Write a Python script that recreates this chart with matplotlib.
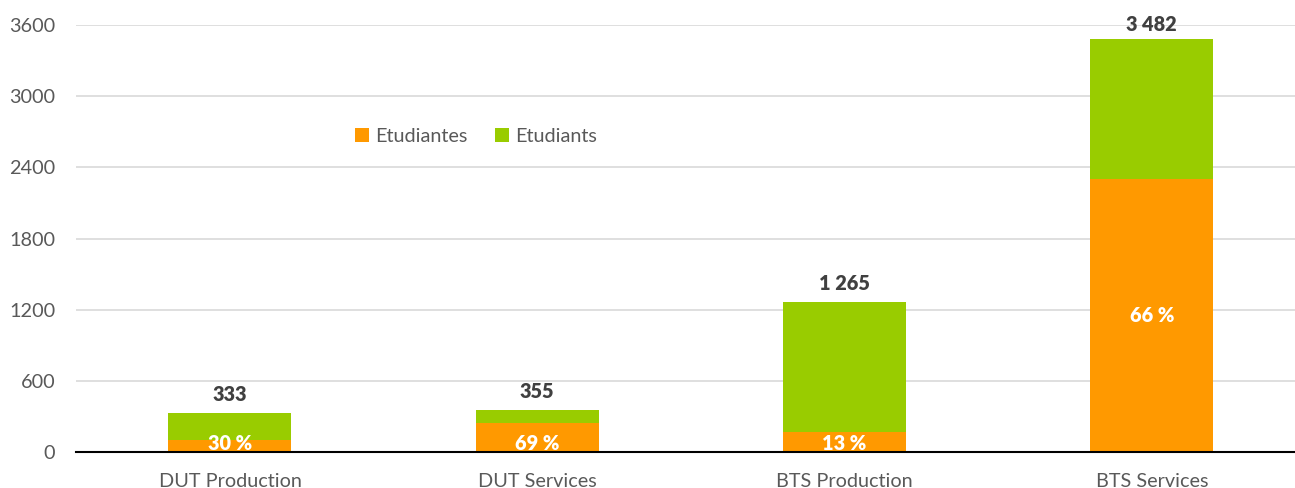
import matplotlib
matplotlib.use("Agg")
import matplotlib.pyplot as plt
import numpy as np

categories = ["DUT Production", "DUT Services", "BTS Production", "BTS Services"]
totals = [333, 355, 1265, 3482]
pct_women = [30, 69, 13, 66]
total_labels = ["333", "355", "1 265", "3 482"]
yticks = [0, 600, 1200, 1800, 2400, 3000, 3600]
legend_labels = ["Etudiantes", "Etudiants"]

women = [t * p / 100 for t, p in zip(totals, pct_women)]
men = [t - w for t, w in zip(totals, women)]

plt.rcParams['font.family'] = ['Lato', 'DejaVu Sans']

ORANGE = "#FF9900"
GREEN = "#99CC00"
FS = 14.3

fig = plt.figure(figsize=(12.95, 4.88), dpi=100)
ax = fig.add_axes([76/1295, 36/488, 1219/1295, 427/488])

x = np.arange(len(categories))
w = 0.40
b1 = ax.bar(x, women, w, color=ORANGE, label=legend_labels[0], zorder=3)
b2 = ax.bar(x, men, w, bottom=women, color=GREEN, label=legend_labels[1], zorder=3)

for xi, wv, p in zip(x, women, pct_women):
    ypos = wv / 2 if wv > 600 else 70
    ax.text(xi, ypos, f"{p} %", ha="center", va="center",
            color="white", fontsize=FS, fontweight="heavy", zorder=4)
for xi, t, lab in zip(x, totals, total_labels):
    ypos = min(t + 75, 3520)
    ax.text(xi, ypos, lab, ha="center", va="bottom", color="#404040",
            fontsize=FS, fontweight="heavy", zorder=4)

ax.set_xlim(-0.501, 3.466)
ax.set_ylim(0, 3600)
ax.set_yticks(yticks)
ax.set_yticklabels([str(v) for v in yticks])
ax.set_xticks(x)
ax.set_xticklabels(categories)
ax.tick_params(axis="y", length=0, pad=15, labelsize=FS, labelcolor="#595959")
ax.tick_params(axis="x", length=0, pad=15, labelsize=FS, labelcolor="#595959")
ax.grid(axis="y", color="#D9D9D9", linewidth=1.2, zorder=0)
for s in ["top", "right", "left"]:
    ax.spines[s].set_visible(False)
ax.spines["bottom"].set_color("#000000")
ax.spines["bottom"].set_linewidth(1.5)
ax.spines["bottom"].set_zorder(5)

fig.legend(handles=[b1, b2], labels=legend_labels, loc="center",
           bbox_to_anchor=(476/1295, 1 - 136/488), ncol=2, frameon=False,
           fontsize=FS, labelcolor="#595959", handlelength=0.7, handleheight=0.7,
           handletextpad=0.3, columnspacing=1.4)

fig.savefig("out.png", dpi=100)
